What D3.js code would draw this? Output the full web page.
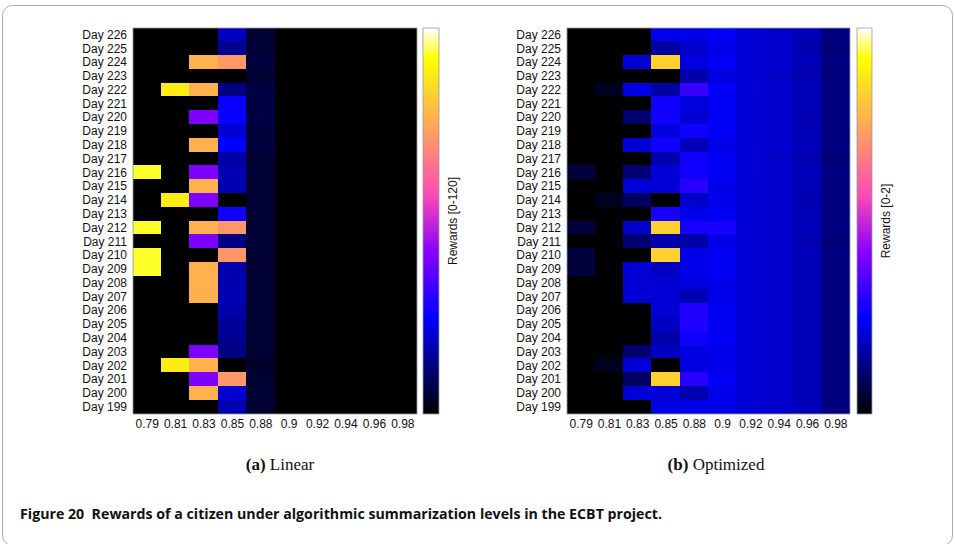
<!DOCTYPE html>
<html>
<head>
<meta charset="utf-8">
<script src="https://cdn.jsdelivr.net/npm/d3@7"></script>
<style>
  html, body { margin: 0; padding: 0; background: #fff; }
  svg { display: block; }
</style>
</head>
<body>
<svg id="chart" width="955" height="544"></svg>
<script>
// ---------- DATA ----------
const levels = ["0.79", "0.81", "0.83", "0.85", "0.88", "0.9", "0.92", "0.94", "0.96", "0.98"];
const days = ["Day 226","Day 225","Day 224","Day 223","Day 222","Day 221","Day 220","Day 219","Day 218","Day 217",
              "Day 216","Day 215","Day 214","Day 213","Day 212","Day 211","Day 210","Day 209","Day 208","Day 207",
              "Day 206","Day 205","Day 204","Day 203","Day 202","Day 201","Day 200","Day 199"];

// Linear rewards (0-120); one row per day (top to bottom), one value per level
const linearRewards = [
  [0,0,0,23,6,0,0,0,0,0],
  [0,0,0,17,6,0,0,0,0,0],
  [0,0,92,86,7,0,0,0,0,0],
  [0,0,0,0,6,0,0,0,0,0],
  [0,106,92,15,8,0,0,0,0,0],
  [0,0,0,31,8,0,0,0,0,0],
  [0,0,49,31,8,0,0,0,0,0],
  [0,0,0,25,7,0,0,0,0,0],
  [0,0,92,30,7,0,0,0,0,0],
  [0,0,0,19,6,0,0,0,0,0],
  [112,0,49,21,6,0,0,0,0,0],
  [0,0,92,21,6,0,0,0,0,0],
  [0,106,49,0,6,0,0,0,0,0],
  [0,0,0,32,6,0,0,0,0,0],
  [112,0,92,86,6,0,0,0,0,0],
  [0,0,49,15,6,0,0,0,0,0],
  [112,0,0,86,6,0,0,0,0,0],
  [112,0,92,20,6,0,0,0,0,0],
  [0,0,92,21,6,0,0,0,0,0],
  [0,0,92,21,6,0,0,0,0,0],
  [0,0,0,20,6,0,0,0,0,0],
  [0,0,0,18,6,0,0,0,0,0],
  [0,0,0,17,6,0,0,0,0,0],
  [0,0,49,15,6,0,0,0,0,0],
  [0,106,92,0,5,0,0,0,0,0],
  [0,0,49,86,6,0,0,0,0,0],
  [0,0,92,25,6,0,0,0,0,0],
  [0,0,0,21,6,0,0,0,0,0]
];

// Optimized rewards (0-2)
const optimizedRewards = [
  [0,0,0,0.46,0.46,0.48,0.42,0.40,0.36,0.25],
  [0,0,0,0.32,0.40,0.46,0.42,0.40,0.35,0.24],
  [0,0,0.42,1.66,0.44,0.48,0.42,0.40,0.36,0.25],
  [0,0,0,0,0.34,0.44,0.42,0.39,0.35,0.24],
  [0,0.06,0.44,0.32,0.64,0.48,0.42,0.40,0.36,0.25],
  [0,0,0,0.54,0.44,0.48,0.42,0.40,0.36,0.25],
  [0,0,0.22,0.54,0.42,0.48,0.42,0.40,0.35,0.25],
  [0,0,0,0.44,0.54,0.48,0.42,0.40,0.36,0.25],
  [0,0,0.42,0.54,0.36,0.46,0.42,0.40,0.36,0.25],
  [0,0,0,0.34,0.54,0.48,0.42,0.39,0.35,0.24],
  [0.12,0,0.22,0.42,0.54,0.48,0.42,0.40,0.36,0.25],
  [0,0,0.42,0.42,0.60,0.46,0.42,0.40,0.36,0.25],
  [0,0.06,0.19,0,0.40,0.46,0.42,0.40,0.35,0.25],
  [0,0,0,0.56,0.46,0.48,0.42,0.40,0.36,0.25],
  [0.12,0,0.40,1.66,0.56,0.56,0.42,0.40,0.36,0.25],
  [0,0,0.22,0.34,0.33,0.46,0.42,0.40,0.35,0.24],
  [0.12,0,0,1.66,0.46,0.48,0.42,0.40,0.36,0.25],
  [0.12,0,0.42,0.38,0.46,0.48,0.42,0.40,0.36,0.25],
  [0,0,0.42,0.42,0.44,0.46,0.42,0.40,0.36,0.25],
  [0,0,0.42,0.42,0.35,0.46,0.42,0.40,0.36,0.25],
  [0,0,0,0.42,0.58,0.48,0.42,0.40,0.36,0.25],
  [0,0,0,0.38,0.58,0.48,0.42,0.40,0.36,0.25],
  [0,0,0,0.33,0.54,0.48,0.42,0.40,0.36,0.25],
  [0,0,0.22,0.38,0.44,0.46,0.42,0.40,0.36,0.25],
  [0,0.06,0.42,0,0.44,0.46,0.42,0.40,0.36,0.25],
  [0,0,0.19,1.66,0.60,0.48,0.42,0.40,0.36,0.25],
  [0,0,0.42,0.42,0.35,0.46,0.42,0.40,0.36,0.25],
  [0,0,0,0.44,0.46,0.46,0.42,0.40,0.36,0.25]
];

const panels = [
  { data: linearRewards, max: 120, cbLabel: "Rewards [0-120]", sub: ["(a)", " Linear"],
    x0: 133, x1: 417, cbx: 423, cbw: 16, lblx: 453, subx: 280 },
  { data: optimizedRewards, max: 2, cbLabel: "Rewards [0-2]", sub: ["(b)", " Optimized"],
    x0: 567, x1: 850, cbx: 857, cbw: 15, lblx: 886, subx: 716 }
];

// ---------- COLOR MAP (gnuplot2) ----------
const clamp = v => Math.max(0, Math.min(1, v));
function gnuplot2(t) {
  const r = clamp(t / 0.32 - 0.78125);
  const g = clamp(2 * t - 0.84);
  const b = clamp(t < 0.25 ? 4 * t : (t < 0.92 ? -2 * t + 1.84 : t / 0.08 - 11.5));
  return d3.rgb(r * 255, g * 255, b * 255).formatHex();
}

const svg = d3.select("#chart");
const plotTop = 28, plotBottom = 414;
const sansFont = "'Liberation Sans', Arial, Helvetica, sans-serif";

svg.append("rect")
  .attr("x", 2.5).attr("y", 5.5).attr("width", 950).attr("height", 540)
  .attr("rx", 10).attr("ry", 10)
  .attr("fill", "none").attr("stroke", "#a9a9a9").attr("stroke-width", 1);

const defs = svg.append("defs");
const grad = defs.append("linearGradient").attr("id", "cmap")
  .attr("x1", 0).attr("y1", 1).attr("x2", 0).attr("y2", 0);
d3.range(0, 101).forEach(i => {
  grad.append("stop").attr("offset", i + "%").attr("stop-color", gnuplot2(i / 100));
});

panels.forEach(p => {
  const x = d3.scaleBand().domain(levels).range([p.x0, p.x1]).padding(0);
  const y = d3.scaleBand().domain(days).range([plotTop, plotBottom]).padding(0);
  const color = d3.scaleSequential(gnuplot2).domain([0, p.max]);

  const cells = [];
  p.data.forEach((row, i) => row.forEach((v, j) => cells.push({ day: days[i], level: levels[j], v })));

  const g = svg.append("g").attr("shape-rendering", "crispEdges");
  g.selectAll("rect.cell").data(cells).join("rect")
    .attr("class", "cell")
    .attr("x", d => Math.floor(x(d.level)))
    .attr("y", d => Math.floor(y(d.day)))
    .attr("width", d => Math.ceil(x(d.level) + x.bandwidth()) - Math.floor(x(d.level)))
    .attr("height", d => Math.ceil(y(d.day) + y.bandwidth()) - Math.floor(y(d.day)))
    .attr("fill", d => color(d.v));

  svg.append("rect").attr("x", p.x0).attr("y", plotTop).attr("width", p.x1 - p.x0).attr("height", plotBottom - plotTop)
    .attr("fill", "none").attr("stroke", "#9a9a9a").attr("stroke-width", 0.8);

  const yAxis = svg.append("g").attr("transform", `translate(${p.x0},0)`)
    .call(d3.axisLeft(y).tickSize(0).tickPadding(6));
  yAxis.select(".domain").remove();
  yAxis.selectAll("text").attr("font-family", sansFont).attr("font-size", 12).attr("fill", "#111");

  const xAxis = svg.append("g").attr("transform", `translate(0,${plotBottom})`)
    .call(d3.axisBottom(x).tickSize(0).tickPadding(5));
  xAxis.select(".domain").remove();
  xAxis.selectAll("text").attr("font-family", sansFont).attr("font-size", 12).attr("fill", "#111");

  svg.append("rect").attr("x", p.cbx).attr("y", plotTop).attr("width", p.cbw).attr("height", plotBottom - plotTop)
    .attr("fill", "url(#cmap)").attr("stroke", "#9a9a9a").attr("stroke-width", 0.8);

  svg.append("text")
    .attr("transform", `translate(${p.lblx},${(plotTop + plotBottom) / 2}) rotate(-90)`)
    .attr("text-anchor", "middle").attr("dy", "0.35em")
    .attr("font-family", sansFont).attr("font-size", 12).attr("fill", "#111")
    .text(p.cbLabel);

  const st = svg.append("text").attr("x", p.subx).attr("y", 470).attr("text-anchor", "middle")
    .attr("font-family", "'Liberation Serif', 'Times New Roman', serif").attr("font-size", 17).attr("fill", "#111");
  st.append("tspan").attr("font-weight", "bold").text(p.sub[0]);
  st.append("tspan").text(p.sub[1]);
});

svg.append("text").attr("x", 20).attr("y", 519)
  .attr("font-family", "'Open Sans', 'Noto Sans', sans-serif").attr("font-weight", 700)
  .attr("font-size", 15).attr("fill", "#111")
  .attr("textLength", 642).attr("lengthAdjust", "spacingAndGlyphs")
  .text("Figure 20\u00a0\u00a0Rewards of a citizen under algorithmic summarization levels in the ECBT project.");
</script>
</body>
</html>
